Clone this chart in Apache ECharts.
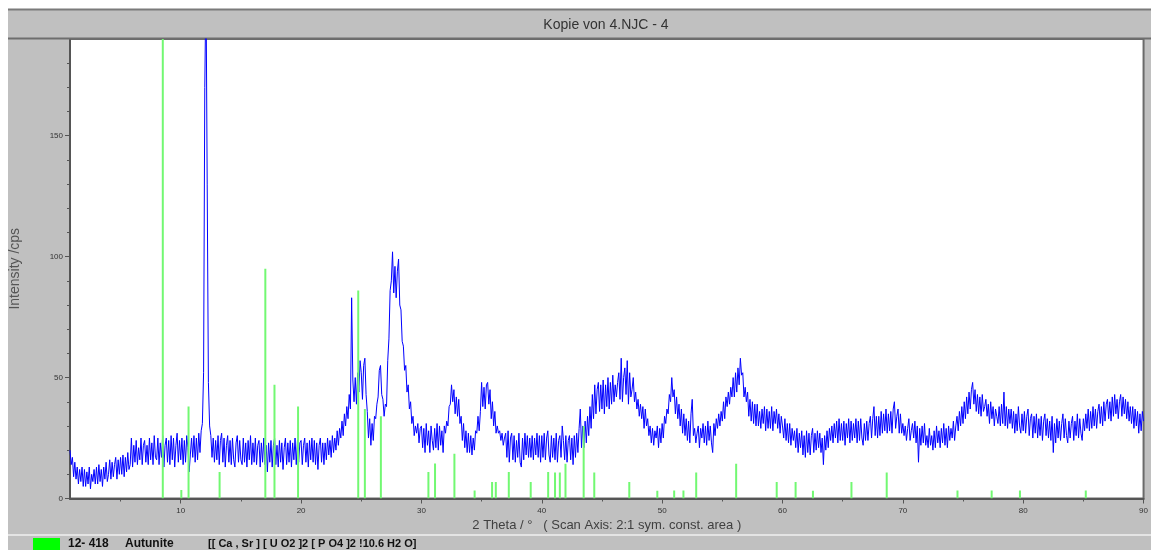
<!DOCTYPE html>
<html>
<head>
<meta charset="utf-8">
<script src="https://cdn.jsdelivr.net/npm/echarts@6/dist/echarts.min.js"></script>
<style>
  html, body { margin: 0; padding: 0; background: #ffffff; }
  #panel { position: absolute; left: 8px; top: 9px; width: 1143px; height: 541px; background: #c0c0c0; }
  #chart { position: absolute; left: 0; top: 0; width: 1151px; height: 550px; }
</style>
</head>
<body>
<div id="panel"></div>
<div id="chart"></div>
<script>
// Measured scan: 2θ from 0.8° in 0.1° steps, intensity in cps (one row per degree)
const scanStart = 0.8;
const scanStep = 0.1;
const intensity = [
  20, 14,
  17, 9, 15, 8, 13, 6, 12, 7, 13, 5,
  12, 5, 11, 6, 13, 4, 10, 7, 12, 6,
  13, 6, 14, 7, 12, 5, 13, 8, 15, 7,
  10, 16, 8, 15, 9, 14, 17, 8, 16, 10,
  17, 10, 18, 9, 17, 11, 19, 12, 14, 25,
  13, 22, 15, 24, 14, 21, 16, 25, 14, 22,
  24, 15, 22, 14, 25, 16, 23, 14, 26, 17,
  16, 25, 14, 23, 17, 26, 13, 22, 25, 15,
  24, 14, 26, 16, 25, 13, 22, 27, 15, 24,
  16, 25, 14, 24, 15, 26, 21, 11, 18, 25,
  17, 26, 15, 25, 16, 27, 19, 28, 31, 52,
  170, 215, 130, 48, 30, 26, 17, 25, 15, 24,
  16, 26, 14, 24, 27, 15, 25, 13, 22, 26,
  15, 24, 14, 25, 16, 13, 23, 26, 15, 24,
  16, 14, 25, 15, 23, 13, 24, 16, 26, 14,
  23, 15, 25, 14, 22, 24, 13, 23, 15, 25,
  14, 22, 11, 23, 15, 24, 13, 22, 25, 14,
  22, 13, 24, 15, 23, 12, 21, 25, 14, 23,
  15, 24, 13, 23, 16, 25, 14, 24, 15, 23,
  24, 14, 22, 25, 15, 23, 13, 24, 16, 25,
  15, 24, 14, 23, 12, 22, 25, 15, 23, 14,
  23, 16, 25, 18, 24, 17, 26, 19, 25, 20,
  28, 22, 29, 25, 32, 26, 35, 30, 38, 33,
  43, 37, 83, 49, 40, 50, 39, 52, 44, 57,
  52, 41, 55, 58, 43, 36, 25, 33, 22, 31,
  24, 34, 33, 39, 42, 53, 55, 43, 41, 34,
  39, 38, 57, 66, 86, 90, 102, 85, 96, 83,
  94, 99, 80, 78, 65, 63, 53, 55, 44, 47,
  37, 40, 31, 34, 26, 30, 27, 31, 23, 29,
  30, 21, 29, 19, 31, 22, 28, 19, 30, 24,
  20, 29, 21, 31, 20, 30, 22, 28, 19, 30,
  27, 32, 30, 38, 39, 47, 40, 45, 35, 42,
  34, 41, 31, 34, 24, 31, 21, 28, 19, 27,
  19, 26, 18, 25, 20, 28, 27, 34, 28, 36,
  48, 38, 46, 37, 47, 48, 39, 45, 33, 40,
  30, 36, 27, 30, 27, 28, 24, 27, 22, 25,
  27, 17, 28, 15, 25, 27, 16, 26, 15, 24,
  17, 27, 15, 13, 25, 16, 27, 18, 26, 17,
  25, 17, 26, 16, 25, 18, 27, 17, 26, 15,
  26, 17, 27, 16, 25, 28, 18, 15, 26, 17,
  25, 16, 27, 15, 24, 26, 17, 30, 24, 16,
  26, 15, 24, 26, 16, 25, 14, 26, 17, 27,
  19, 29, 37, 21, 30, 21, 32, 23, 34, 26,
  38, 29, 43, 33, 47, 35, 45, 48, 36, 47,
  37, 49, 35, 47, 38, 50, 37, 48, 39, 51,
  40, 47, 42, 48, 52, 41, 58, 40, 50, 54,
  43, 57, 39, 52, 42, 45, 50, 40, 44, 37,
  41, 34, 39, 33, 38, 29, 37, 30, 33, 26,
  30, 23, 29, 22, 28, 25, 30, 21, 29, 23,
  31, 25, 34, 31, 37, 35, 43, 40, 50, 42,
  45, 35, 42, 33, 39, 30, 37, 27, 35, 26,
  33, 24, 32, 23, 35, 41, 26, 29, 23, 27,
  30, 21, 29, 25, 31, 23, 30, 22, 32, 24,
  30, 23, 19, 31, 26, 33, 29, 35, 30, 36,
  32, 40, 33, 42, 38, 44, 39, 46, 42, 50,
  42, 52, 44, 54, 47, 58, 51, 52, 42, 46,
  40, 44, 34, 41, 32, 40, 31, 39, 30, 39,
  30, 36, 29, 37, 31, 38, 28, 37, 29, 36,
  29, 38, 28, 36, 31, 37, 29, 35, 27, 34,
  30, 25, 33, 24, 31, 23, 31, 22, 29, 24,
  28, 21, 29, 19, 27, 21, 28, 18, 26, 17,
  28, 19, 27, 18, 26, 29, 19, 27, 20, 28,
  21, 27, 19, 25, 14, 26, 20, 28, 21, 29,
  24, 30, 23, 31, 25, 32, 23, 33, 24, 31,
  24, 32, 22, 31, 25, 33, 23, 32, 24, 31,
  25, 33, 23, 32, 24, 33, 25, 22, 31, 24,
  32, 24, 31, 34, 25, 33, 38, 26, 34, 25,
  34, 26, 36, 27, 35, 28, 37, 27, 35, 28,
  36, 27, 37, 40, 29, 34, 37, 27, 35, 27,
  31, 26, 30, 24, 29, 33, 24, 28, 31, 25,
  32, 23, 30, 15, 29, 22, 30, 23, 31, 22,
  26, 21, 29, 22, 26, 20, 28, 21, 30, 23,
  28, 21, 29, 23, 31, 22, 29, 21, 30, 24,
  29, 25, 32, 24, 30, 34, 28, 36, 30, 38,
  31, 40, 33, 42, 35, 44, 37, 45, 48, 39,
  45, 36, 43, 35, 42, 34, 43, 36, 38, 41,
  34, 39, 31, 40, 33, 38, 30, 37, 34, 31,
  38, 30, 39, 31, 44, 30, 38, 29, 37, 31,
  37, 29, 36, 27, 35, 28, 38, 30, 27, 35,
  28, 36, 27, 34, 37, 26, 33, 35, 25, 34,
  27, 35, 25, 33, 26, 34, 24, 32, 35, 26,
  33, 25, 32, 24, 34, 19, 31, 23, 33, 25,
  32, 24, 31, 35, 25, 33, 26, 23, 32, 25,
  31, 34, 24, 32, 26, 35, 25, 33, 27, 24,
  33, 28, 35, 29, 37, 28, 36, 29, 38, 30,
  37, 29, 36, 39, 31, 38, 30, 40, 32, 39,
  41, 33, 40, 32, 42, 34, 43, 35, 41, 33,
  40, 43, 34, 42, 35, 41, 33, 40, 32, 38,
  31, 38, 29, 37, 30, 36, 27, 35, 28, 36,
  32
];

// Reference pattern 12-418 Autunite: line positions (2θ) and heights (cps)
const stickPositions = [
  8.51, 10.05, 10.65, 13.23, 17.03, 17.79, 19.75, 24.75, 25.3, 26.63,
  30.58, 31.13, 32.74, 34.42, 35.87, 36.18, 37.26, 39.08, 40.53, 41.1,
  41.5, 41.97, 43.48, 44.36, 47.27, 49.6, 51.0, 51.77, 52.83, 56.15,
  59.52, 61.09, 62.53, 65.73, 68.66, 74.54, 77.38, 79.73, 85.2
];
const stickHeights = [
  200, 3.5, 38, 11, 95, 47, 38, 86, 37, 34,
  11, 14.5, 18.5, 3.3, 6.8, 6.8, 11, 6.8, 11, 10.7,
  10.7, 14.4, 30, 10.7, 6.8, 3.2, 3.3, 3.3, 10.7, 14.4,
  6.8, 6.8, 3.2, 6.8, 10.7, 3.3, 3.3, 3.3, 3.3
];

// Axis ticks
const xTickValues = [10, 20, 30, 40, 50, 60, 70, 80, 90];
const xMinorTickValues = [5, 15, 25, 35, 45, 55, 65, 75, 85];
const yTickValues = [0, 50, 100, 150];
const yMinorTickValues = [0, 10, 20, 30, 40, 50, 60, 70, 80, 90, 100, 110, 120, 130, 140, 150, 160, 170, 180];

const chartTitle = 'Kopie von 4.NJC - 4';
const xAxisTitle = '2 Theta / °   ( Scan Axis: 2:1 sym. const. area )';
const yAxisTitle = 'Intensity /cps';
const patternCode = '12- 418';
const patternName = 'Autunite';
const patternFormula = '[[ Ca , Sr ] [ U O2 ]2 [ P O4 ]2 !10.6 H2 O]';

const scanData = intensity.map((v, i) => [+(scanStart + i * scanStep).toFixed(2), v]);
const stickData = stickPositions.map((p, i) => [p, stickHeights[i]]);

const FONT = '"Liberation Sans", Arial, sans-serif';
const xMin = 0.8, xMax = 90, yMin = 0, yMax = 190;

const chart = echarts.init(document.getElementById('chart'), null, { renderer: 'canvas' });

const hiddenAxisParts = {
  axisLine: { show: false },
  axisLabel: { show: false },
  splitLine: { show: false }
};

chart.setOption({
  animation: false,
  backgroundColor: 'transparent',
  grid: {
    left: 69, right: 5.5, top: 39, bottom: 51.5,
    show: true,
    backgroundColor: '#ffffff',
    borderColor: '#6a6a6a',
    borderWidth: 2
  },
  xAxis: [
    {
      type: 'value', min: xMin, max: xMax,
      axisLine: { show: true, lineStyle: { color: '#555555', width: 2 } },
      axisTick: { show: true, customValues: xTickValues, length: 5, lineStyle: { color: '#555555', width: 1 } },
      axisLabel: { show: true, customValues: xTickValues, margin: 8, color: '#333333', fontSize: 8, fontFamily: FONT },
      splitLine: { show: false },
      name: xAxisTitle, nameLocation: 'middle', nameGap: 18,
      nameTextStyle: { color: '#404040', fontSize: 13, fontFamily: FONT }
    },
    Object.assign({
      type: 'value', min: xMin, max: xMax, position: 'bottom',
      axisTick: { show: true, customValues: xMinorTickValues, length: 3, lineStyle: { color: '#555555', width: 1 } }
    }, hiddenAxisParts)
  ],
  yAxis: [
    {
      type: 'value', min: yMin, max: yMax,
      axisLine: { show: true, lineStyle: { color: '#555555', width: 2 } },
      axisTick: { show: true, customValues: yTickValues, length: 5, lineStyle: { color: '#555555', width: 1 } },
      axisLabel: { show: true, customValues: yTickValues, margin: 7, color: '#333333', fontSize: 8, fontFamily: FONT },
      splitLine: { show: false },
      name: yAxisTitle, nameLocation: 'middle', nameGap: 48, nameRotate: 90,
      nameTextStyle: { color: '#555555', fontSize: 14, fontFamily: FONT }
    },
    Object.assign({
      type: 'value', min: yMin, max: yMax, position: 'left',
      axisTick: { show: true, customValues: yMinorTickValues, length: 3, lineStyle: { color: '#555555', width: 1 } }
    }, hiddenAxisParts)
  ],
  series: [
    {
      name: 'scan',
      type: 'line',
      xAxisIndex: 0, yAxisIndex: 0,
      data: scanData,
      showSymbol: false,
      symbol: 'none',
      sampling: 'none',
      clip: true,
      lineStyle: { color: '#0000ff', width: 1 },
      z: 2
    },
    {
      name: patternName,
      type: 'custom',
      xAxisIndex: 0, yAxisIndex: 0,
      data: stickData,
      clip: true,
      z: 3,
      renderItem: function (params, api) {
        const base = api.coord([api.value(0), 0]);
        const top = api.coord([api.value(0), api.value(1)]);
        return {
          type: 'line',
          shape: { x1: base[0], y1: base[1], x2: top[0], y2: top[1] },
          style: { stroke: '#72f872', lineWidth: 2 }
        };
      }
    }
  ],
  graphic: [
    { type: 'rect', left: 8, top: 8.5, shape: { width: 1143, height: 2 }, style: { fill: '#7a7a7a' }, z: 1 },
    { type: 'rect', left: 8, top: 37.5, shape: { width: 1143, height: 2 }, style: { fill: '#6e6e6e' }, z: 1 },
    { type: 'text', x: 606, y: 25, style: { text: chartTitle, fill: '#333333', font: '14px ' + FONT, textAlign: 'center', textVerticalAlign: 'middle' }, z: 5 },
    { type: 'rect', left: 8, top: 534, shape: { width: 1143, height: 2 }, style: { fill: '#e4e4e4' }, z: 1 },
    { type: 'rect', left: 33, top: 538, shape: { width: 27, height: 12 }, style: { fill: '#00ff00' }, z: 5 },
    { type: 'text', x: 68, y: 544, style: { text: patternCode, fill: '#111111', font: 'bold 12px ' + FONT, textVerticalAlign: 'middle' }, z: 5 },
    { type: 'text', x: 125, y: 544, style: { text: patternName, fill: '#111111', font: 'bold 12px ' + FONT, textVerticalAlign: 'middle' }, z: 5 },
    { type: 'text', x: 208, y: 544, style: { text: patternFormula, fill: '#111111', font: 'bold 11px ' + FONT, textVerticalAlign: 'middle' }, z: 5 }
  ]
});
</script>
</body>
</html>
